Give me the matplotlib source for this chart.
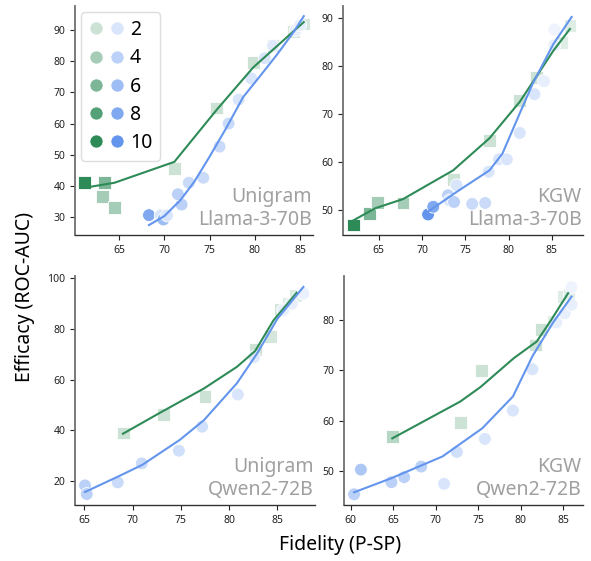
import numpy as np
import matplotlib
matplotlib.use("Agg")
import matplotlib.pyplot as plt
from matplotlib.lines import Line2D
from matplotlib.legend_handler import HandlerTuple
from matplotlib.colors import to_rgb

plt.rcParams['font.family'] = ['Noto Sans', 'DejaVu Sans']

GREEN = "#2e8b57"
BLUE = "#6495ed"
legend_levels = [2, 4, 6, 8, 10]

# panel 1: Unigram / Llama-3-70B
p1_sq_x = [61.2, 63.4, 63.2, 64.5, 71.1, 75.8, 79.8, 82.0, 84.3, 85.4]
p1_sq_y = [41.0, 41.0, 36.5, 33.0, 45.5, 65.0, 79.5, 85.0, 89.5, 92.0]
p1_sq_lvl = [10, 6, 4, 4, 2, 2, 2, 2, 1.5, 1.5]
p1_ci_x = [68.3, 69.6, 69.9, 70.3, 71.9, 71.5, 72.7, 74.3, 76.1, 77.1, 78.2, 79.6, 81.1, 82.0, 84.5, 85.0]
p1_ci_y = [30.6, 30.5, 29.2, 30.5, 34.0, 37.3, 41.0, 42.6, 52.6, 60.0, 67.7, 74.5, 81.0, 85.0, 90.0, 91.6]
p1_ci_lvl = [8, 2, 6, 2, 4, 4, 3, 3, 3, 3, 2, 2, 2, 1.5, 1, 1]
p1_gl_x = [61.2, 64.5, 71.1, 75.8, 79.8, 85.4]
p1_gl_y = [39.4, 41.0, 47.7, 64.5, 78.0, 92.6]
p1_bl_x = [68.3, 70.0, 71.8, 73.3, 75.0, 76.8, 78.7, 80.5, 82.4, 84.3, 85.4]
p1_bl_y = [27.4, 30.3, 35.5, 41.3, 49.4, 58.4, 68.5, 75.0, 82.0, 89.5, 94.5]

# panel 2: KGW / Llama-3-70B
p2_sq_x = [62.1, 63.9, 64.9, 67.8, 73.6, 77.8, 81.3, 83.2, 86.1, 87.1]
p2_sq_y = [46.9, 49.3, 51.6, 51.5, 56.4, 64.6, 72.9, 77.6, 85.0, 88.6]
p2_sq_lvl = [10, 6, 4, 4, 2, 2, 2, 2, 1, 1]
p2_ci_x = [70.7, 71.3, 73.0, 73.2, 73.7, 74.0, 75.8, 77.3, 77.7, 78.9, 79.8, 81.3, 83.0, 84.1, 85.3, 85.3]
p2_ci_y = [49.1, 50.7, 53.1, 52.0, 51.7, 55.2, 51.3, 51.5, 58.0, 60.6, 60.6, 66.1, 74.2, 76.9, 84.4, 87.7]
p2_ci_lvl = [10, 8, 4, 2, 4, 2, 3, 3, 2, 2, 2, 2, 2, 1, 1, 0.5]
p2_gl_x = [62.1, 64.6, 67.8, 73.6, 77.8, 81.3, 82.8, 85.2, 87.1]
p2_gl_y = [47.9, 50.4, 52.3, 58.3, 65.0, 72.6, 76.7, 83.3, 87.8]
p2_bl_x = [70.7, 74.0, 77.8, 79.3, 81.3, 82.8, 85.2, 87.3]
p2_bl_y = [49.7, 53.8, 58.3, 61.8, 70.2, 76.4, 84.7, 90.3]

# panel 3: Unigram / Qwen2-72B
p3_sq_x = [69.05, 73.2, 77.5, 82.7, 84.3, 85.3, 86.1, 86.9]
p3_sq_y = [38.9, 46.2, 53.4, 71.8, 77.0, 87.6, 90.2, 93.1]
p3_sq_lvl = [2, 2, 2, 2, 1.5, 1.5, 1, 1]
p3_ci_x = [65.07, 65.25, 68.46, 70.95, 74.8, 77.2, 80.9, 82.6, 85.6, 86.5, 87.7]
p3_ci_y = [18.2, 14.8, 19.4, 26.9, 31.9, 41.4, 54.1, 68.9, 87.4, 90.0, 94.0]
p3_ci_lvl = [4, 4, 3, 3, 2.5, 2.5, 2, 1.5, 1, 1, 0.8]
p3_gl_x = [69.0, 72.8, 77.4, 80.8, 82.7, 84.6, 87.0]
p3_gl_y = [38.6, 46.8, 56.5, 65.0, 71.3, 83.4, 94.3]
p3_bl_x = [65.07, 68.5, 71.0, 74.9, 77.4, 80.8, 82.9, 85.0, 87.7]
p3_bl_y = [15.6, 21.7, 26.3, 36.2, 44.0, 58.5, 70.3, 84.0, 96.6]

# panel 4: KGW / Qwen2-72B
p4_sq_x = [64.93, 72.9, 75.4, 81.8, 82.4, 83.9, 85.0, 85.7]
p4_sq_y = [56.9, 59.7, 69.9, 75.0, 78.1, 79.7, 84.6, 85.0]
p4_sq_lvl = [3, 2, 2, 2, 2, 1, 1, 1]
p4_ci_x = [60.4, 61.2, 64.8, 66.3, 68.3, 71.0, 72.5, 75.8, 79.1, 81.4, 84.2, 85.2, 86.0, 86.0]
p4_ci_y = [45.4, 50.3, 47.8, 48.8, 50.9, 47.5, 53.8, 56.4, 62.0, 70.2, 79.5, 81.3, 83.0, 86.5]
p4_ci_lvl = [4, 5, 4, 4, 4, 2, 2.5, 2, 2, 2, 1, 1, 1, 0.5]
p4_gl_x = [64.9, 72.9, 75.3, 79.2, 81.9, 83.5, 85.6]
p4_gl_y = [56.5, 63.8, 66.7, 72.4, 75.7, 79.7, 85.3]
p4_bl_x = [60.4, 64.8, 70.8, 75.5, 79.1, 81.4, 83.8, 86.0]
p4_bl_y = [45.8, 48.6, 52.9, 58.5, 64.8, 72.8, 79.4, 84.6]


def shade(color, lvl):
    # mix the base colour with white; level 10 is the full colour
    t = 0.25 + (lvl - 2) * 0.75 / 8
    t = min(max(t, 0.08), 1.0)
    c = np.array(to_rgb(color))
    return tuple(1 - t + t * c)


fig = plt.figure(figsize=(5.91, 5.61), dpi=100)

panels = [
    dict(rect=[0.127, 0.581, 0.403, 0.408], xlim=(60.14, 86.44), ylim=(24.2, 97.7),
         xt=[65, 70, 75, 80, 85], yt=[30, 40, 50, 60, 70, 80, 90],
         sq=(p1_sq_x, p1_sq_y, p1_sq_lvl), ci=(p1_ci_x, p1_ci_y, p1_ci_lvl),
         gl=(p1_gl_x, p1_gl_y), bl=(p1_bl_x, p1_bl_y), label="Unigram\nLlama-3-70B"),
    dict(rect=[0.580, 0.581, 0.406, 0.408], xlim=(60.84, 88.58), ylim=(44.8, 92.55),
         xt=[65, 70, 75, 80, 85], yt=[50, 60, 70, 80, 90],
         sq=(p2_sq_x, p2_sq_y, p2_sq_lvl), ci=(p2_ci_x, p2_ci_y, p2_ci_lvl),
         gl=(p2_gl_x, p2_gl_y), bl=(p2_bl_x, p2_bl_y), label="KGW\nLlama-3-70B"),
    dict(rect=[0.127, 0.100, 0.406, 0.408], xlim=(64.04, 88.9), ylim=(10.5, 100.9),
         xt=[65, 70, 75, 80, 85], yt=[20, 40, 60, 80, 100],
         sq=(p3_sq_x, p3_sq_y, p3_sq_lvl), ci=(p3_ci_x, p3_ci_y, p3_ci_lvl),
         gl=(p3_gl_x, p3_gl_y), bl=(p3_bl_x, p3_bl_y), label="Unigram\nQwen2-72B"),
    dict(rect=[0.582, 0.100, 0.404, 0.408], xlim=(59.21, 87.32), ylim=(43.3, 88.7),
         xt=[60, 65, 70, 75, 80, 85], yt=[50, 60, 70, 80],
         sq=(p4_sq_x, p4_sq_y, p4_sq_lvl), ci=(p4_ci_x, p4_ci_y, p4_ci_lvl),
         gl=(p4_gl_x, p4_gl_y), bl=(p4_bl_x, p4_bl_y), label="KGW\nQwen2-72B"),
]

axes = []
for p in panels:
    ax = fig.add_axes(p["rect"])
    sx, sy, sl = p["sq"]
    cx, cy, cl = p["ci"]
    ax.scatter(sx, sy, s=85, marker="s", c=[shade(GREEN, v) for v in sl],
               edgecolors="white", linewidths=0.6, zorder=2)
    ax.scatter(cx, cy, s=85, marker="o", c=[shade(BLUE, v) for v in cl],
               edgecolors="white", linewidths=0.6, zorder=2)
    ax.plot(*p["gl"], color=GREEN, lw=1.5, zorder=3)
    ax.plot(*p["bl"], color=BLUE, lw=1.5, zorder=3)
    ax.set_xlim(*p["xlim"])
    ax.set_ylim(*p["ylim"])
    ax.set_xticks(p["xt"])
    ax.set_yticks(p["yt"])
    ax.tick_params(labelsize=7.5, length=3.5, width=0.8, colors="#222222")
    ax.spines["top"].set_visible(False)
    ax.spines["right"].set_visible(False)
    ax.spines["left"].set_color("#707070")
    ax.spines["left"].set_linewidth(1.3)
    ax.spines["bottom"].set_color("#333333")
    ax.spines["bottom"].set_linewidth(1.0)
    ax.text(0.995, 0.02, p["label"], transform=ax.transAxes, ha="right", va="bottom",
            fontsize=14, color="#a0a0a0", linespacing=1.2, zorder=4)
    axes.append(ax)

handles = []
for lv in legend_levels:
    g = Line2D([], [], marker="o", ls="", markersize=9.5, markerfacecolor=shade(GREEN, lv),
               markeredgecolor="white", markeredgewidth=0.6)
    b = Line2D([], [], marker="o", ls="", markersize=9.5, markerfacecolor=shade(BLUE, lv),
               markeredgecolor="white", markeredgewidth=0.6)
    handles.append((g, b))
axes[0].legend(handles, [str(v) for v in legend_levels], loc="upper left",
               bbox_to_anchor=(-0.015, 1.015), fontsize=14, labelspacing=0.42,
               handler_map={tuple: HandlerTuple(ndivide=None, pad=0.3)},
               handlelength=1.8, handletextpad=0.3, borderpad=0.4, framealpha=1,
               edgecolor="#dddddd")

fig.text(0.043, 0.47, "Efficacy (ROC-AUC)", rotation=90, ha="center", va="center", fontsize=14)
fig.text(0.575, 0.028, "Fidelity (P-SP)", ha="center", va="center", fontsize=14)

fig.savefig("out.png", dpi=100)
